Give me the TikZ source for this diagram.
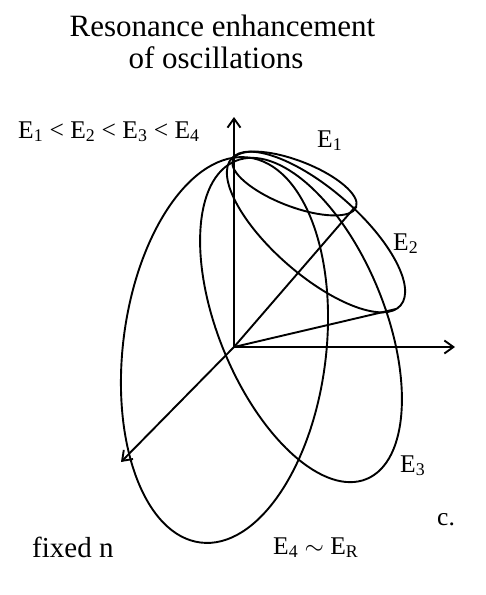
\documentclass[tikz,border=0pt]{standalone}
\usepackage{fontspec}
\setmainfont{Liberation Serif}
\usetikzlibrary{arrows.meta}
\begin{document}
\begin{tikzpicture}[x=1pt,y=1pt,
  curve/.style={line width=1.9pt},
  axis/.style={line width=1.9pt,-{Straight Barb[length=9pt,width=13pt]}},
  ray/.style={line width=1.9pt},
  lbl/.style={anchor=base west,inner sep=0pt,font=\fontsize{25.5}{28}\selectfont},
  big/.style={anchor=base west,inner sep=0pt,font=\fontsize{29}{31}\selectfont},
  ttl/.style={anchor=base,inner sep=0pt,font=\fontsize{31}{33}\selectfont}]
\useasboundingbox (0,0) rectangle (486,-595);
% axes
\coordinate (O) at (234,-347);
\coordinate (Y) at (234,-117);
\coordinate (X) at (455,-347);
\coordinate (Z) at (121,-462);
\draw[axis] (O) -- (Y);
\draw[axis] (O) -- (X);
\draw[axis] (O) -- (Z);
% ellipse centres
\coordinate (C1) at (294.5,-183.5);
\coordinate (C2) at (316,-232);
\coordinate (C3) at (301,-320);
\coordinate (C4) at (224.5,-350);
\draw[curve, rotate around={-21:(C1)}] (C1) ellipse [x radius=66, y radius=23];
\draw[curve, rotate around={-41:(C2)}] (C2) ellipse [x radius=112, y radius=43];
\draw[curve, rotate around={-67.6:(C3)}] (C3) ellipse [x radius=172, y radius=83];
\draw[curve, rotate around={82.9:(C4)}] (C4) ellipse [x radius=194, y radius=101.5];
% rays
\coordinate (T1) at (355,-207);
\coordinate (T2) at (396,-309);
\draw[ray] (O) -- (T1);
\draw[ray] (O) -- (T2);
% texts
\node[ttl] (t1) at (222.5,-36.7) {Resonance enhancement};
\node[ttl] (t2) at (216,-68) {of oscillations};
\node[lbl] (ineq) at (18,-138) {E\textsubscript{1} < E\textsubscript{2} < E\textsubscript{3} < E\textsubscript{4}};
\node[lbl] (l1) at (317,-147) {E\textsubscript{1}};
\node[lbl] (l2) at (393,-250) {E\textsubscript{2}};
\node[lbl] (l3) at (400,-472) {E\textsubscript{3}};
\node[lbl] (lc) at (437,-525) {c.};
\node[big] (fx) at (32,-557) {fixed n};
\node[lbl] (l4) at (273,-554) {E\textsubscript{4} $\sim$ E\textsubscript{R}};
\end{tikzpicture}
\end{document}
